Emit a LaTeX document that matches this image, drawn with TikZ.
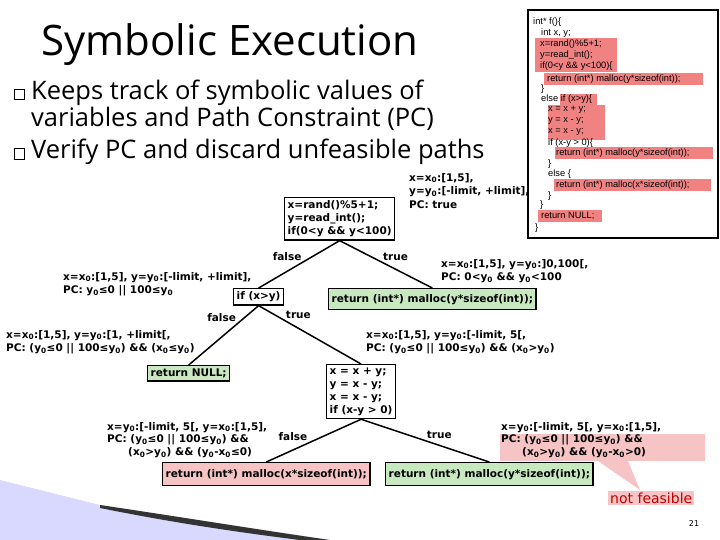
\documentclass[tikz,border=0pt]{standalone}
\usepackage{fontspec}
\setmainfont{DejaVu Sans}
\newfontfamily\titlefont{Open Sans}
\newfontfamily\codefont{Liberation Sans}
\newcommand\zz{\textsubscript{0}}
\newcommand\bsq{{\fboxsep=0pt\fboxrule=0.5pt\fbox{\rule{0pt}{10pt}\hspace{10pt}}}}
\definecolor{gfill}{RGB}{200,232,192}
\definecolor{pfill}{RGB}{246,196,196}
\definecolor{hl}{RGB}{240,130,130}
\begin{document}
\begin{tikzpicture}[x=1pt,y=-1pt,
 bx/.style={draw,line width=1.4pt,font=\bfseries\fontsize{10.5}{13}\selectfont,inner sep=3pt,align=left},
 lb/.style={font=\bfseries\fontsize{10.5}{13.5}\selectfont,align=left,inner sep=1pt},
 cd/.style={font=\codefont\fontsize{9.3}{10}\selectfont,anchor=west,inner sep=0pt},
 ed/.style={line width=1.5pt}]
\useasboundingbox (0,0) rectangle (720,540);
% swoosh decoration
\fill[blue!15] (0,480) -- (100,505) -- (330,540) -- (0,540) -- cycle;
\fill[black!80] (100,505) .. controls (200,520) and (260,530) .. (330,540) -- (300,540) .. controls (220,530) and (160,520) .. (100,508) -- cycle;
% title
\node[font=\titlefont\fontsize{42}{46}\selectfont,anchor=west] (title) at (38,45) {Symbolic Execution};
\node[font=\titlefont\fontsize{25.5}{27}\selectfont,anchor=west,align=left] (b1) at (10,105) {\bsq{} Keeps track of symbolic values of\\\hphantom{\bsq{} }variables and Path Constraint (PC)};
\node[font=\titlefont\fontsize{25.5}{27}\selectfont,anchor=west] (b2) at (10,152) {\bsq{} Verify PC and discard unfeasible paths};
% code box
\draw[line width=1.4pt,fill=white] (528,10) rectangle (718,238);
\fill[hl] (535,38) rectangle (617,72);
\fill[hl] (544,73) rectangle (703,85);
\fill[hl] (560,94) rectangle (597,105);
\fill[hl] (548,105) rectangle (605,140);
\fill[hl] (555,147) rectangle (713,159);
\fill[hl] (554,179) rectangle (711,191);
\fill[hl] (538,210) rectangle (602,222);
\node[cd] (c1) at (533,22) {int* f()\{};
\node[cd] (c2) at (541,33) {int x, y;};
\node[cd] (c3) at (540,44) {x=rand()\%5+1;};
\node[cd] (c4) at (540,55) {y=read\_int();};
\node[cd] (c5) at (540,66) {if(0<y \&\& y<100)\{};
\node[cd] (c6) at (547,79) {return (int*) malloc(y*sizeof(int));};
\node[cd] (c7) at (541,89) {\}};
\node[cd] (c8) at (541,99) {else if (x>y)\{};
\node[cd] (c9) at (548,110) {x = x + y;};
\node[cd] (c10) at (548,121) {y = x - y;};
\node[cd] (c11) at (548,132) {x = x - y;};
\node[cd] (c12) at (548,143) {if (x-y > 0)\{};
\node[cd] (c13) at (556,153) {return (int*) malloc(y*sizeof(int));};
\node[cd] (c14) at (548,164) {\}};
\node[cd] (c15) at (548,174) {else \{};
\node[cd] (c16) at (556,185) {return (int*) malloc(x*sizeof(int));};
\node[cd] (c17) at (548,196) {\}};
\node[cd] (c18) at (540,205) {\}};
\node[cd] (c19) at (541,216) {return NULL;};
\node[cd] (c20) at (535,228) {\}};
% tree
\node[bx,anchor=north west,fill=white] (n1) at (284,197) {x=rand()\%5+1;\\y=read\_int();\\if(0<y \&\& y<100)};
\node[lb,anchor=north west] (l1) at (408,172) {x=x\zz:[1,5],\\y=y\zz:[-limit, +limit],\\PC: true};
\node[bx,anchor=north west] (n2) at (233,288) {if (x>y)};
\node[bx,anchor=north west,fill=gfill,minimum height=21pt] (n3) at (328,288) {return (int*) malloc(y*sizeof(int));};
\draw[ed] (n1.south) -- (n2.north) node[lb,pos=0.45,above left] (f1) {false};
\draw[ed] (n1.south) -- (n3.north) node[lb,pos=0.45,above right] (t1) {true};
\node[lb,anchor=west] (l2) at (62,284) {x=x\zz:[1,5], y=y\zz:[-limit, +limit],\\PC: y\zz≤0 || 100≤y\zz};
\node[lb,anchor=west] (l3) at (440,271) {x=x\zz:[1,5], y=y\zz:]0,100[,\\PC: 0<y\zz{} \&\& y\zz<100};
\node[bx,anchor=north west,fill=gfill] (n4) at (147,365) {return NULL;};
\node[bx,anchor=north west] (n5) at (326,364) {x = x + y;\\y = x - y;\\x = x - y;\\if (x-y > 0)};
\draw[ed] (n2.south) -- (n4.north) node[lb,pos=0.3,above left] (f2) {false};
\draw[ed] (n2.south) -- (n5.north) node[lb,pos=0.25,above right] (t2) {true};
\node[lb,anchor=west] (l4) at (5,342) {x=x\zz:[1,5], y=y\zz:[1, +limit[,\\PC: (y\zz≤0 || 100≤y\zz) \&\& (x\zz≤y\zz)};
\node[lb,anchor=west] (l5) at (365,342) {x=x\zz:[1,5], y=y\zz:[-limit, 5[,\\PC: (y\zz≤0 || 100≤y\zz) \&\& (x\zz>y\zz)};
\node[bx,anchor=north west,fill=pfill,minimum height=23pt] (n6) at (162,462) {return (int*) malloc(x*sizeof(int));};
\node[bx,anchor=north west,fill=gfill,minimum height=23pt] (n7) at (385,462) {return (int*) malloc(y*sizeof(int));};
\draw[ed] (n5.south) -- (n6.north) node[lb,pos=0.55,above left] (f3) {false};
\draw[ed] (n5.south) -- (n7.north) node[lb,pos=0.5,above right] (t3) {true};
\node[lb,anchor=north west,font=\bfseries\fontsize{10.5}{12.8}\selectfont] (l6) at (106,421) {x=y\zz:[-limit, 5[, y=x\zz:[1,5],\\PC: (y\zz≤0 || 100≤y\zz) \&\&\\\hspace{2em}(x\zz>y\zz) \&\& (y\zz-x\zz≤0)};
\fill[pfill] (500,434) rectangle (705,461);
\fill[pfill] (598,461) -- (640,490) -- (628,461) -- cycle;
\node[lb,anchor=north west,font=\bfseries\fontsize{10.5}{12.8}\selectfont] (l7) at (500,421) {x=y\zz:[-limit, 5[, y=x\zz:[1,5],\\PC: (y\zz≤0 || 100≤y\zz) \&\&\\\hspace{2em}(x\zz>y\zz) \&\& (y\zz-x\zz>0)};
\node[fill=pfill,text=red!75!black,font=\fontsize{14}{16}\selectfont,anchor=west,inner sep=2pt] (nf) at (608,498) {not feasible};
\node[font=\fontsize{8}{9}\selectfont] (pg) at (694,524) {21};
\end{tikzpicture}
\end{document}
